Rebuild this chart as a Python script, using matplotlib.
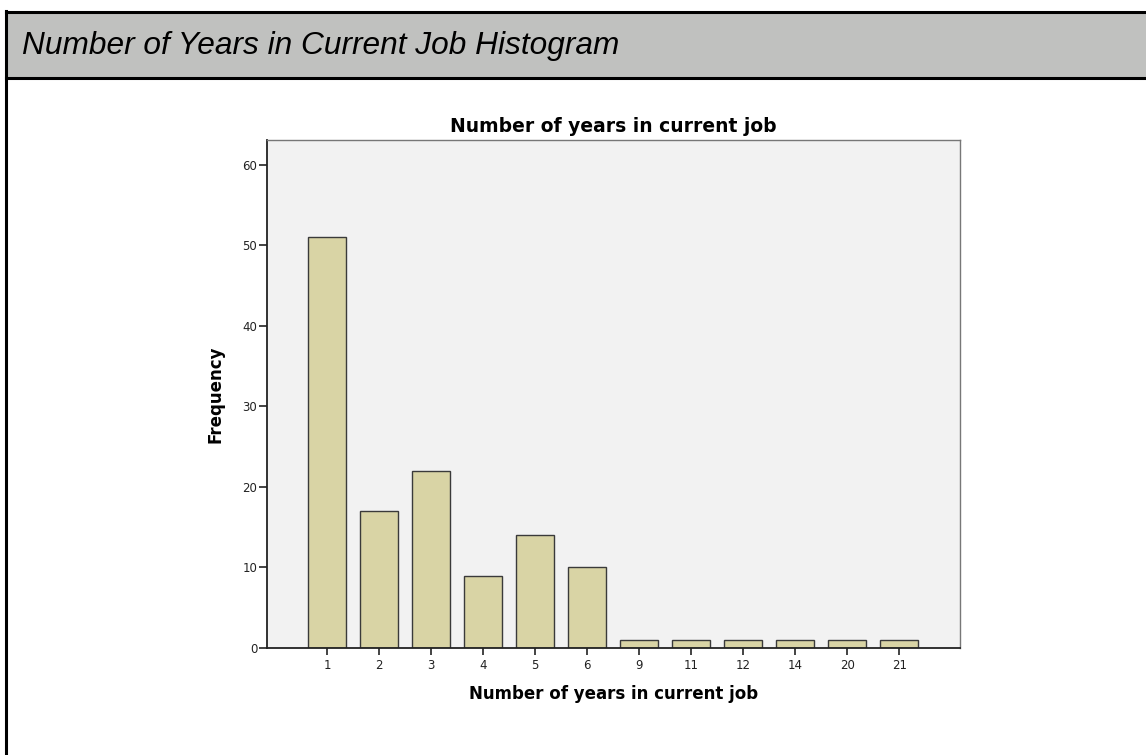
import matplotlib
matplotlib.use("Agg")
import matplotlib.pyplot as plt
from matplotlib.patches import Rectangle
from matplotlib.lines import Line2D

categories = ["1", "2", "3", "4", "5", "6", "9", "11", "12", "14", "20", "21"]
frequency = [51, 17, 22, 9, 14, 10, 1, 1, 1, 1, 1, 1]
y_ticks = [0, 10, 20, 30, 40, 50, 60]

W, H = 1146, 755
fig = plt.figure(figsize=(W / 100, H / 100), dpi=100)
fig.patch.set_facecolor("white")

# header band
fig.add_artist(Rectangle((6 / W, 1 - 78 / H), 1.1, 66 / H, transform=fig.transFigure,
                         facecolor="#C0C1BF", edgecolor="none", zorder=0))
for yy in (12, 78):
    fig.add_artist(Line2D([6 / W, 1.0], [1 - yy / H, 1 - yy / H], transform=fig.transFigure,
                          color="black", lw=2.2, zorder=1))
fig.add_artist(Line2D([6 / W, 6 / W], [0, 1 - 11 / H], transform=fig.transFigure,
                      color="black", lw=2.2, zorder=1))
fig.text(22 / W, 1 - 46 / H, "Number of Years in Current Job Histogram",
         family="Liberation Sans", style="italic", fontsize=22.8, va="center", ha="left")

# axes
left, right, top, bottom = 267, 960, 140, 648
ax = fig.add_axes([left / W, 1 - bottom / H, (right - left) / W, (bottom - top) / H])
ax.set_facecolor("#F2F2F2")
x = list(range(len(categories)))
ax.bar(x, frequency, width=0.73, color="#D9D4A5", edgecolor="#3A3A3A", linewidth=1.0, zorder=2)
ax.set_xlim(-1.154, 12.17)
ax.set_ylim(0, 63.1)
ax.set_xticks(x)
ax.set_xticklabels(categories)
ax.set_yticks(y_ticks)
ax.tick_params(axis="both", direction="out", labelsize=8.5, colors="#222222", width=1.2)
ax.tick_params(axis="y", length=6, pad=1)
ax.tick_params(axis="x", length=5, pad=3)
for side in ("left", "bottom"):
    ax.spines[side].set_color("#222222")
    ax.spines[side].set_linewidth(1.3)
for side in ("right", "top"):
    ax.spines[side].set_color("#777777")
    ax.spines[side].set_linewidth(1.0)

ax.set_title("Number of years in current job", fontsize=13.5, fontweight="bold", pad=6)
ax.set_xlabel("Number of years in current job", fontsize=12, fontweight="bold", labelpad=9)
ax.set_ylabel("Frequency", fontsize=12, fontweight="bold", labelpad=13)

fig.savefig("out.png", dpi=100)
